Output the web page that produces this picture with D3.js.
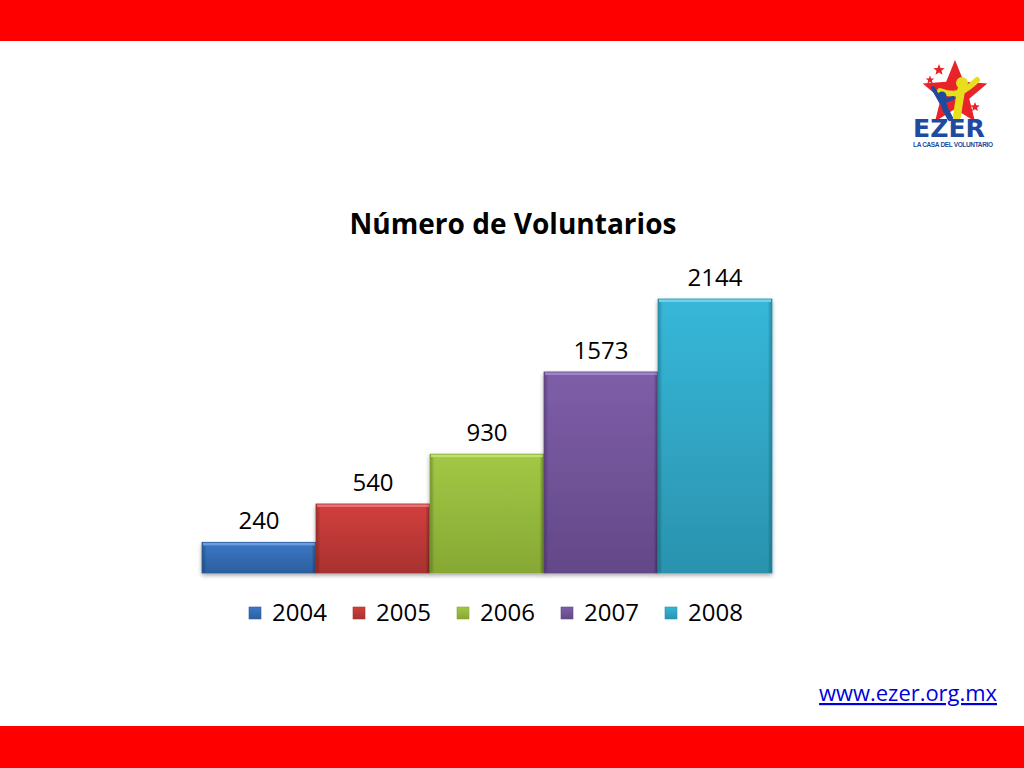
<!DOCTYPE html>
<html><head><meta charset="utf-8">
<script src="https://cdn.jsdelivr.net/npm/d3@7"></script>
<style>html,body{margin:0;padding:0;background:#fff;}svg{display:block;}</style>
</head><body>
<script>
const categories = ["2004","2005","2006","2007","2008"];
const values = [240, 540, 930, 1573, 2144];
const colors = ["#3c78c6","#d23f3d","#a2c845","#7e5ea8","#37b7d9"];
const darks  = ["#2c5f9e","#a83230","#86a834","#634888","#2a93ae"];
const lights = ["#6a9ee0","#e87370","#c0e070","#a084c8","#6fd3ee"];

const W = 1024, H = 768;
const svg = d3.select("body").append("svg").attr("width", W).attr("height", H);
const font = "'Open Sans', 'Liberation Sans', sans-serif";

// red bands
svg.append("rect").attr("x",0).attr("y",0).attr("width",W).attr("height",41).attr("fill","#ff0000");
svg.append("rect").attr("x",0).attr("y",726).attr("width",W).attr("height",42).attr("fill","#ff0000");

const defs = svg.append("defs");
categories.forEach((c,i)=>{
  const g = defs.append("linearGradient").attr("id","g"+i).attr("x1",0).attr("y1",0).attr("x2",0).attr("y2",1);
  g.append("stop").attr("offset","0%").attr("stop-color",colors[i]);
  g.append("stop").attr("offset","100%").attr("stop-color",darks[i]);
  const h = defs.append("linearGradient").attr("id","h"+i).attr("x1",0).attr("y1",0).attr("x2",1).attr("y2",0);
  h.append("stop").attr("offset","0%").attr("stop-color","#000").attr("stop-opacity",0.25);
  h.append("stop").attr("offset","4%").attr("stop-color","#000").attr("stop-opacity",0);
  h.append("stop").attr("offset","96%").attr("stop-color","#000").attr("stop-opacity",0);
  h.append("stop").attr("offset","100%").attr("stop-color","#000").attr("stop-opacity",0.25);
});
const filt = defs.append("filter").attr("id","sh").attr("x","-10%").attr("y","-10%").attr("width","120%").attr("height","130%");
filt.append("feGaussianBlur").attr("in","SourceAlpha").attr("stdDeviation",2);
filt.append("feOffset").attr("dx",0).attr("dy",2).attr("result","b");
filt.append("feComponentTransfer").append("feFuncA").attr("type","linear").attr("slope",0.35);
const fm = filt.append("feMerge"); fm.append("feMergeNode"); fm.append("feMergeNode").attr("in","SourceGraphic");

const x = d3.scaleBand().domain(categories).range([202, 772]).paddingInner(0).paddingOuter(0);
const y = d3.scaleLinear().domain([0, 2500]).range([573, 253.5]);

// title
const title = svg.append("text").attr("x",513).attr("y",234).attr("text-anchor","middle")
  .attr("font-family",font).attr("font-weight","bold").attr("font-size",26).attr("fill","#000")
  .text("Número de Voluntarios");
{ const len = title.node().getComputedTextLength(); title.attr("font-size", 26*327/len); }

const bars = svg.append("g");
categories.forEach((c,i)=>{
  const bx = x(c), bw = x.bandwidth(), by = y(values[i]), bh = y(0)-y(values[i]);
  const gg = bars.append("g").attr("filter","url(#sh)");
  gg.append("rect").attr("x",bx).attr("y",by).attr("width",bw).attr("height",bh).attr("fill",`url(#g${i})`);
  gg.append("rect").attr("x",bx).attr("y",by).attr("width",bw).attr("height",bh).attr("fill",`url(#h${i})`);
  gg.append("rect").attr("x",bx+1).attr("y",by).attr("width",bw-2).attr("height",3).attr("fill",lights[i]);
  gg.append("rect").attr("x",bx).attr("y",by).attr("width",bw).attr("height",bh).attr("fill","none").attr("stroke",darks[i]).attr("stroke-width",0.8);
  svg.append("text").attr("x",bx+bw/2).attr("y",by-13).attr("text-anchor","middle")
    .attr("font-family",font).attr("font-size",24).attr("fill","#000").text(values[i]);
});

// legend
const lx = d3.scalePoint().domain(categories).range([249, 665]);
categories.forEach((c,i)=>{
  const g = svg.append("g").attr("transform",`translate(${lx(c)},607)`);
  g.append("rect").attr("width",12).attr("height",12).attr("fill",`url(#g${i})`).attr("stroke",darks[i]).attr("stroke-width",0.6);
  g.append("text").attr("x",23).attr("y",14).attr("font-family",font).attr("font-size",24).attr("fill","#000").text(c);
});

// link
const link = svg.append("text").attr("x",997).attr("y",701).attr("text-anchor","end")
  .attr("font-family",font).attr("font-size",20).attr("fill","#0000dd").attr("text-decoration","underline")
  .text("www.ezer.org.mx");
{ const len = link.node().getComputedTextLength(); link.attr("font-size", 20*178/len); }

// logo
const logo = svg.append("g").attr("transform","translate(955,94)");
const star = (r1,r2)=>{const p=[];for(let k=0;k<10;k++){const a=-Math.PI/2+k*Math.PI/5;const r=k%2?r2:r1;p.push([r*Math.cos(a),r*Math.sin(a)]);}return p;};
logo.append("polygon").attr("points",star(34,15).map(p=>p.join(",")).join(" ")).attr("fill","#e8232a");
logo.append("polygon").attr("points",star(6,2.6).map(p=>p.join(",")).join(" ")).attr("fill","#e8232a").attr("transform","translate(-16,-24)");
logo.append("polygon").attr("points",star(4.5,2).map(p=>p.join(",")).join(" ")).attr("fill","#e8232a").attr("transform","translate(-25,-14)");
logo.append("polygon").attr("points",star(5,2.2).map(p=>p.join(",")).join(" ")).attr("fill","#e8232a").attr("transform","translate(20,13)");
// yellow figure
logo.append("circle").attr("cx",7).attr("cy",-11).attr("r",6).attr("fill","#e6e01c");
logo.append("path").attr("d","M-15,-3 Q-2,2 6,-2 Q14,-6 22,-14").attr("fill","none").attr("stroke","#e6e01c").attr("stroke-width",6).attr("stroke-linecap","round");
logo.append("path").attr("d","M6,-3 Q4,8 2,22").attr("fill","none").attr("stroke","#e6e01c").attr("stroke-width",8).attr("stroke-linecap","round");
// blue figure
logo.append("circle").attr("cx",-13).attr("cy",2).attr("r",4.5).attr("fill","#1f4aa0");
logo.append("path").attr("d","M-22,-6 L-14,8 L-2,4").attr("fill","none").attr("stroke","#1f4aa0").attr("stroke-width",4).attr("stroke-linecap","round");
logo.append("path").attr("d","M-12,8 Q-10,16 -5,24").attr("fill","none").attr("stroke","#1f4aa0").attr("stroke-width",6).attr("stroke-linecap","round");
logo.append("text").attr("x",-6).attr("y",43).attr("text-anchor","middle").attr("font-family","'DejaVu Sans', sans-serif").attr("font-weight","bold").attr("font-size",25).attr("textLength",72).attr("lengthAdjust","spacingAndGlyphs").attr("fill","#1f4aa0").text("EZER");
logo.append("text").attr("x",-2).attr("y",53).attr("text-anchor","middle").attr("font-family","'Liberation Sans', sans-serif").attr("font-weight","bold").attr("font-size",6.5).attr("textLength",80).attr("fill","#1f4aa0").text("LA CASA DEL VOLUNTARIO");
</script>
</body></html>
